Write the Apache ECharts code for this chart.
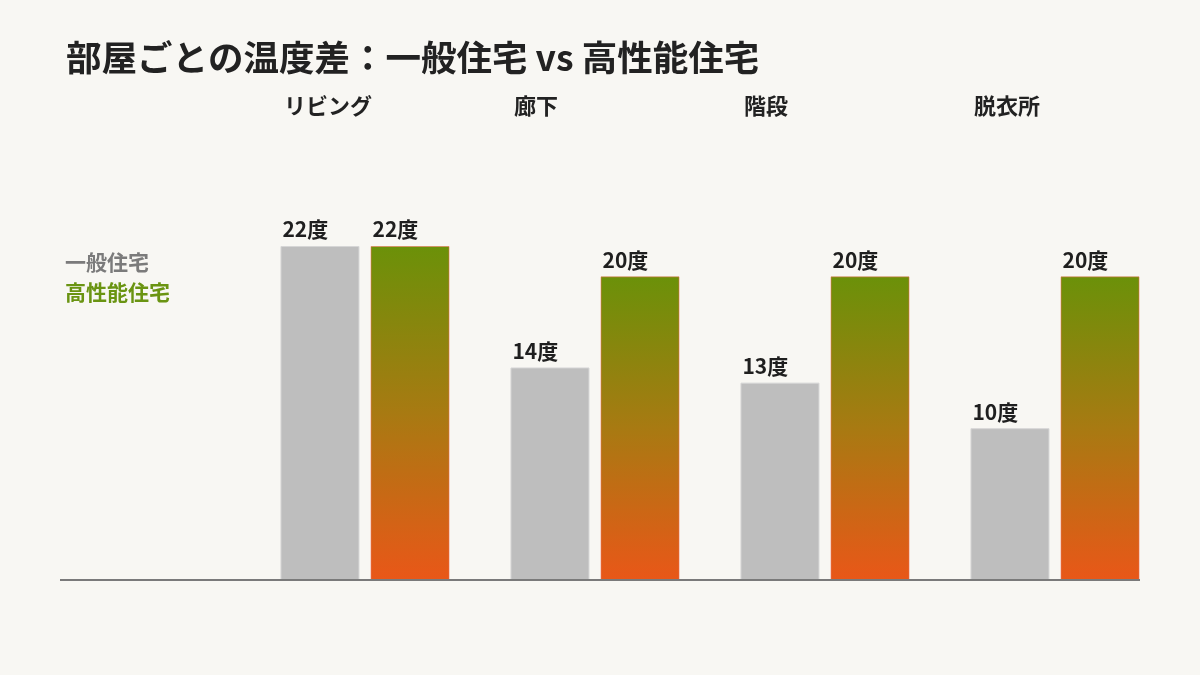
<!DOCTYPE html>
<html><head><meta charset="utf-8">
<script src="https://cdn.jsdelivr.net/npm/echarts@6/dist/echarts.min.js"></script>
<style>html,body{margin:0;padding:0;background:#f8f7f3;}#c{width:1200px;height:675px;}</style>
</head><body><div id="c"></div>
<script>
const categories = ['リビング', '廊下', '階段', '脱衣所'];
const seriesNames = ['一般住宅', '高性能住宅'];
const normalHouse = [22, 14, 13, 10];
const highPerfHouse = [22, 20, 20, 20];
const unit = '度';

const FONT = '"Noto Sans CJK JP", "Noto Sans", sans-serif';
const chart = echarts.init(document.getElementById('c'));
const labelCfg = {
  show: true, position: [2, -6], align: 'left', verticalAlign: 'bottom',
  formatter: p => p.value + unit,
  color: '#1f1f1f', fontSize: 21, fontWeight: 'bold', fontFamily: FONT
};
chart.setOption({
  backgroundColor: '#f8f7f3',
  animation: false,
  title: {
    text: '部屋ごとの温度差：一般住宅 vs 高性能住宅',
    left: 61, top: 35,
    textStyle: { color: '#222', fontSize: 35.5, fontWeight: 'bold', fontFamily: FONT }
  },
  legend: {
    orient: 'vertical', left: 60, top: 252, itemGap: 9, padding: 0,
    icon: 'none', itemWidth: 0, itemHeight: 0,
    data: [
      { name: seriesNames[0], textStyle: { color: '#7b7b7b' } },
      { name: seriesNames[1], textStyle: { color: '#6a9412' } }
    ],
    textStyle: { fontSize: 21, fontWeight: 'bold', fontFamily: FONT },
    selectedMode: false
  },
  grid: { left: 250, right: 30, top: 246, bottom: 95 },
  xAxis: {
    type: 'category', data: categories, position: 'top',
    axisLine: { show: false }, axisTick: { show: false },
    axisLabel: {
      margin: 129, align: 'center',
      formatter: v => '{c|' + v + '}',
      rich: {
        c: { width: 162, align: 'left', color: '#222', fontSize: 22, fontWeight: 'bold', fontFamily: FONT }
      }
    }
  },
  yAxis: { type: 'value', min: 0, max: 22, show: false, splitLine: { show: false } },
  graphic: [{
    type: 'line', shape: { x1: 60, y1: 580, x2: 1140, y2: 580 },
    style: { stroke: '#7a7a7a', lineWidth: 2 }, z: 10
  }],
  series: [
    {
      name: seriesNames[0], type: 'bar', data: normalHouse,
      barWidth: 79, barGap: '14%',
      itemStyle: { color: '#bebebe', borderColor: '#d6d6d6', borderWidth: 1 },
      label: labelCfg
    },
    {
      name: seriesNames[1], type: 'bar', data: highPerfHouse,
      barWidth: 79,
      itemStyle: {
        color: new echarts.graphic.LinearGradient(0, 0, 0, 1, [
          { offset: 0, color: '#6b9109' },
          { offset: 0.5, color: '#a87a12' },
          { offset: 1, color: '#e95718' }
        ]),
        borderColor: 'rgba(235,110,80,0.55)', borderWidth: 1
      },
      label: labelCfg
    }
  ]
});
</script></body></html>
